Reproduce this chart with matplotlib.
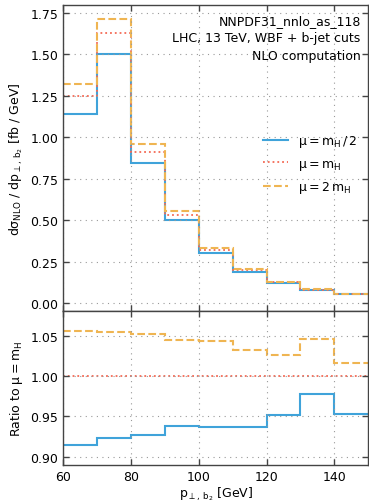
import numpy as np
import matplotlib
matplotlib.use("Agg")
import matplotlib.pyplot as plt

plt.rcParams["mathtext.default"] = "regular"
plt.rcParams["font.size"] = 9

# bin edges in p_T,b2 [GeV]
edges = [60, 70, 80, 90, 100, 110, 120, 130, 140, 150]

# NLO differential cross sections [fb / GeV]
xs_half = [1.142, 1.502, 0.846, 0.500, 0.2998, 0.1856, 0.1196, 0.0800, 0.0540]
xs_central = [1.248, 1.627, 0.913, 0.533, 0.320, 0.198, 0.1256, 0.0818, 0.0567]
xs_double = [1.318, 1.715, 0.961, 0.5565, 0.334, 0.2043, 0.1288, 0.0856, 0.0576]

labels = [r"$\mu = m_H\,/\,2$", r"$\mu = m_H$", r"$\mu = 2\,m_H$"]
info_lines = ["NNPDF31_nnlo_as_118", "LHC, 13 TeV, WBF + b-jet cuts", "NLO computation"]

c_half = "#3fa3da"
c_central = "#f46a55"
c_double = "#efb552"

edges = np.array(edges)
xs_half = np.array(xs_half)
xs_central = np.array(xs_central)
xs_double = np.array(xs_double)

fig = plt.figure(figsize=(3.69, 5.02), dpi=100)
gs = fig.add_gridspec(2, 1, height_ratios=[2, 1], hspace=0,
                      left=0.171, right=0.998, top=0.989, bottom=0.072)
ax = fig.add_subplot(gs[0])
axr = fig.add_subplot(gs[1], sharex=ax)

styles = [(xs_half, c_half, "-", 1.5),
          (xs_central, c_central, ":", 1.3),
          (xs_double, c_double, "--", 1.5)]

for (vals, col, ls, lw), lab in zip(styles, labels):
    ax.stairs(vals, edges, color=col, linestyle=ls, linewidth=lw, label=lab, baseline=None)
    axr.stairs(vals / xs_central, edges, color=col, linestyle=ls, linewidth=lw, baseline=None)

ax.set_xlim(60, 150)
ax.set_ylim(-0.05, 1.8)
ax.set_yticks([0.0, 0.25, 0.5, 0.75, 1.0, 1.25, 1.5, 1.75])
axr.set_ylim(0.89, 1.08)
axr.set_yticks([0.90, 0.95, 1.00, 1.05])
axr.set_xticks([60, 80, 100, 120, 140])

for a in (ax, axr):
    a.grid(True, linestyle=(0, (1, 4)), color="#999999", linewidth=0.8)
    a.tick_params(direction="in", top=True, right=True, length=4, width=1,
                  color="#444444", labelsize=9)
    for s in a.spines.values():
        s.set_color("#444444")
        s.set_linewidth(1.0)
plt.setp(ax.get_xticklabels(), visible=False)
axr.tick_params(axis="x", pad=4)

ax.set_ylabel(r"$d\sigma_{NLO}\ /\ dp_{\perp,\,b_2}$ [fb / GeV]", fontsize=9)
axr.set_ylabel(r"Ratio to $\mu = m_H$", fontsize=9)
axr.set_xlabel(r"$p_{\perp,\,b_2}$ [GeV]", fontsize=9, labelpad=1)
fig.align_ylabels([ax, axr])

ax.text(0.975, 0.97, "\n".join(info_lines), transform=ax.transAxes,
        ha="right", va="top", fontsize=9, linespacing=1.45)

ax.legend(loc="center right", bbox_to_anchor=(1.0, 0.48), frameon=False,
          fontsize=9, handlelength=2.0, labelspacing=0.6)

fig.savefig("out.png", dpi=100)
